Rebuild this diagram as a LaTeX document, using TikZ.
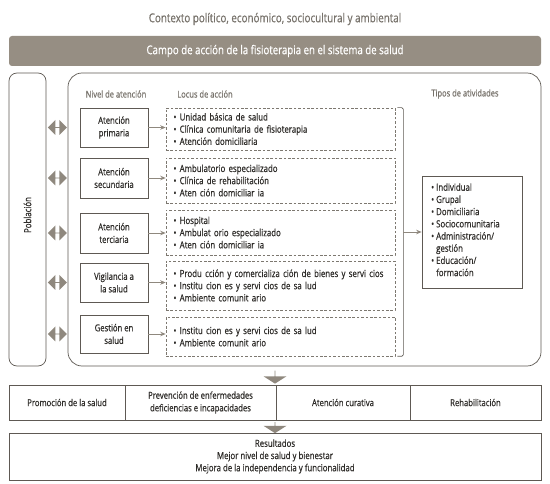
\documentclass[tikz,border=0pt]{standalone}
\usepackage{fontspec}
\setmainfont{Open Sans}[FakeStretch=0.8, FakeBold=0.6]
\usetikzlibrary{shapes.arrows,arrows.meta}
\definecolor{band}{HTML}{968E83}
\definecolor{edge}{HTML}{5E5953}
\definecolor{dashc}{HTML}{7D7870}
\definecolor{txt}{HTML}{2E2C29}
\definecolor{lbl}{HTML}{77726B}
\definecolor{arr}{HTML}{8F887E}
\begin{document}
\begin{tikzpicture}[x=1pt,y=-1pt,
  every node/.style={font=\fontsize{9.8}{12.2}\selectfont, text=txt, inner sep=0pt},
  solidedge/.style={draw=edge, line width=0.7pt},
  levelbox/.style={solidedge, minimum width=68pt, align=center, font=\fontsize{9.6}{12.6}\selectfont},
  locusbox/.style={draw=dashc, line width=0.6pt, dash pattern=on 2.6pt off 1.8pt, minimum width=229pt, text width=214pt, align=left},
  rowbox/.style={solidedge, minimum height=35pt, align=center, font=\fontsize{9.6}{12.6}\selectfont},
  headlbl/.style={text=lbl, font=\fontsize{9.4}{11}\selectfont},
  smallarrow/.style={draw=arr, line width=0.8pt, -{Stealth[length=5.5pt,width=4.5pt]}},
  dblarrow/.style={double arrow, fill=arr, minimum height=19pt, minimum width=15pt, double arrow head extend=3.5pt},
  downarrow/.style={single arrow, fill=arr, shape border rotate=270, minimum height=13pt, minimum width=23pt, single arrow head extend=5pt, single arrow tip angle=115}
]
\useasboundingbox (0,0) rectangle (550,484);

\node[text=lbl, font=\fontsize{12.3}{14}\selectfont] (ctx) at (275,19) {Contexto político, económico, sociocultural y ambiental};
\node[fill=band, rounded corners=3pt, minimum width=532pt, minimum height=30pt, text=white, font=\fontsize{12.1}{14}\selectfont] (campo) at (275,51) {Campo de acción de la fisioterapia en el sistema de salud};

\node[solidedge, rounded corners=8pt, minimum width=37pt, minimum height=293pt] (pob) at (27.5,219.5) {};
\node[rotate=90] (pobt) at (27.5,215) {Población};
\node[solidedge, rounded corners=14pt, minimum width=473pt, minimum height=293pt] (main) at (304.5,219.5) {};

\node[headlbl] (hn) at (116,94) {Nivel de atención};
\node[headlbl] (hl) at (205,94) {Locus de acción};
\node[headlbl] (ht) at (465,94) {Tipos de atividades};

\node[levelbox, minimum height=39pt] (l1) at (114,127.5) {Atención\\primaria};
\node[levelbox, minimum height=40pt] (l2) at (114,178) {Atención\\secundaria};
\node[levelbox, minimum height=40pt] (l3) at (114,233) {Atención\\terciaria};
\node[levelbox, minimum height=39pt] (l4) at (114,282.5) {Vigilancia a\\la salud};
\node[levelbox, minimum height=38pt] (l5) at (114,334) {Gestión en\\salud};

\node[locusbox, minimum height=42pt] (d1) at (280.5,129) {•~Unidad básica de salud\\•~Clínica comunitaria de fisioterapia\\•~Atención domiciliaria};
\node[locusbox, minimum height=45pt] (d2) at (280.5,180.5) {•~Ambulatorio especializado\\•~Clínica de rehabilitación\\•~Aten ción domiciliar ia};
\node[locusbox, minimum height=45pt] (d3) at (280.5,232.5) {•~Hospital\\•~Ambulat orio especializado\\•~Aten ción domiciliar ia};
\node[locusbox, minimum height=49pt] (d4) at (280.5,285.5) {•~Produ cción y comercializa ción de bienes y servi cios\\•~Institu cion es y servi cios de sa lud\\•~Ambiente comunit ario};
\node[locusbox, minimum height=39pt] (d5) at (280.5,336.5) {•~Institu cion es y servi cios de sa lud\\•~Ambiente comunit ario};

\foreach \i in {1,...,5} {
  \draw[smallarrow] (l\i.east) -- (l\i.east -| d\i.west);
  \node[dblarrow] (da\i) at (pob.east |- l\i.center) [xshift=11pt] {};
}

\coordinate (brT) at ([xshift=8pt]d1.north east);
\coordinate (brB) at ([xshift=8pt]d5.south east);
\draw[solidedge, line width=0.6pt, rounded corners=1.5pt] ([xshift=2pt]d1.north east) -- (brT) -- (brB) -- ([xshift=2pt]d5.south east);

\node[solidedge, minimum width=100pt, minimum height=112pt] (tipos) at (472,232) {};
\node[anchor=north west, align=left] (tiposl) at (431,182) {%
\begin{tabular}{@{}l@{~}l@{}}
•&Individual\\
•&Grupal\\
•&Domiciliaria\\
•&Sociocomunitaria\\
•&Administración/\\
&gestión\\
•&Educación/\\
&formación
\end{tabular}};
\draw[smallarrow] (brT |- tipos.west) -- (tipos.west);

\node[downarrow] (ar1) at (275,377) {};

\node[rowbox, minimum width=116pt] (p1) at (67,402.5) {Promoción de la salud};
\node[rowbox, minimum width=151pt] (p2) at (200.5,402.5) {Prevención de enfermedades\\deficiencias e incapacidades};
\node[rowbox, minimum width=134pt] (p3) at (343,402.5) {Atención curativa};
\node[rowbox, minimum width=131pt] (p4) at (475.5,402.5) {Rehabilitación};

\node[downarrow, minimum height=11pt] (ar2) at (275,427.5) {};

\node[solidedge, minimum width=532pt, minimum height=47pt, align=center] (res) at (275,456.5) {Resultados\\Mejor nivel de salud y bienestar\\Mejora de la independencia y funcionalidad};
\end{tikzpicture}
\end{document}
